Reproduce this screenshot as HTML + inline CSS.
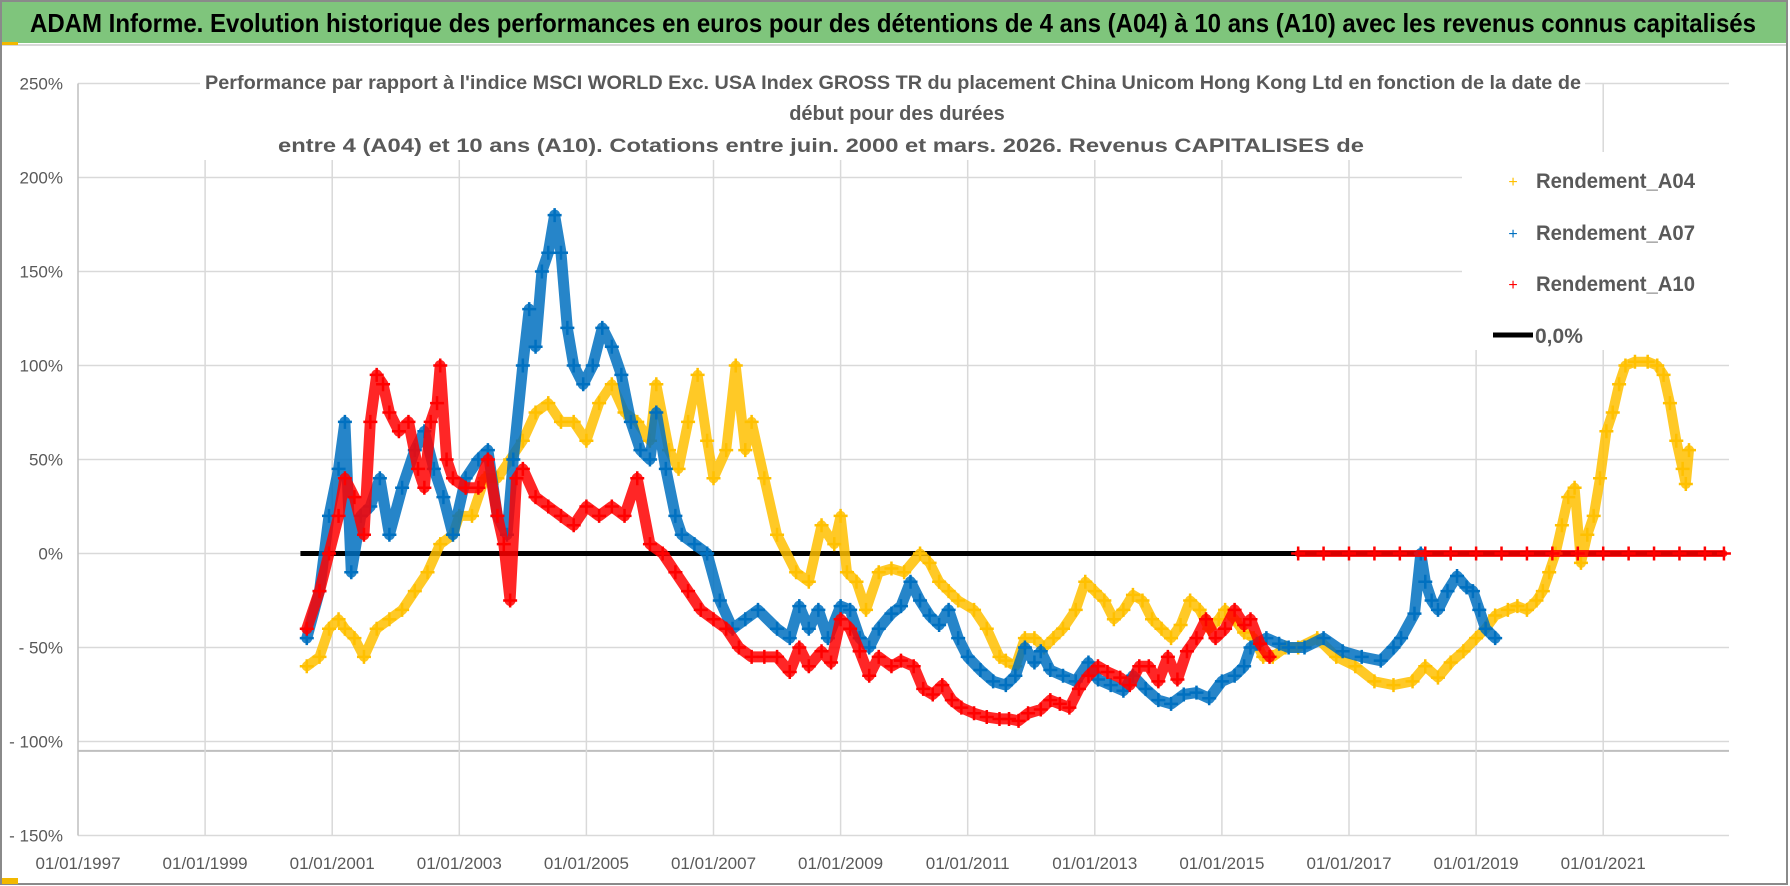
<!DOCTYPE html>
<html><head><meta charset="utf-8"><style>
html,body{margin:0;padding:0;background:#fff;}
svg{display:block;font-family:"Liberation Sans",sans-serif;}
</style></head><body>
<svg id="chart" width="1790" height="886" viewBox="0 0 1790 886">
<rect x="0" y="0" width="1790" height="886" fill="#fff"/>
<rect x="1" y="1" width="1786" height="883" fill="none" stroke="#8a8a8a" stroke-width="2"/>
<rect x="2" y="2" width="1784" height="41" fill="#7fc57c"/>
<line x1="2" y1="45" x2="1786" y2="45" stroke="#d8d8d8" stroke-width="2"/>
<rect x="2" y="42" width="16" height="3" fill="#f2b800"/>
<rect x="2" y="878" width="16" height="6" fill="#f2b800"/>
<text x="30" y="32" font-size="26" font-weight="bold" fill="#000" textLength="1726" lengthAdjust="spacingAndGlyphs">ADAM Informe. Evolution historique des performances en euros pour des détentions de 4 ans (A04) à 10 ans (A10) avec les revenus connus capitalisés</text>
<g id="grid"></g>
<g id="axes"></g>
<g id="series"></g>
<rect x="1462" y="152" width="300" height="198" fill="#fff"/>
<g id="titles">
<rect x="200" y="70" width="1385" height="90" fill="#fff"/>
<text x="205" y="89" font-size="19" font-weight="bold" fill="#595959" textLength="1376" lengthAdjust="spacingAndGlyphs">Performance par rapport à l'indice MSCI WORLD Exc. USA Index GROSS TR  du placement China Unicom Hong Kong Ltd en fonction de la date de</text>
<text x="897" y="120" font-size="20" font-weight="bold" fill="#595959" text-anchor="middle">début pour des durées</text>
<text x="278" y="152" font-size="19" font-weight="bold" fill="#595959" textLength="1086" lengthAdjust="spacingAndGlyphs">entre 4 (A04) et 10 ans (A10). Cotations entre juin. 2000 et mars. 2026. Revenus CAPITALISES de</text>
</g>
<g id="legend">
<g><text x="1513" y="187" font-size="16" fill="#ffc000" text-anchor="middle">+</text><text x="1536" y="188" font-size="21" font-weight="bold" fill="#595959" textLength="159" lengthAdjust="spacingAndGlyphs">Rendement_A04</text></g>
<g><text x="1513" y="239" font-size="16" fill="#0070c0" text-anchor="middle">+</text><text x="1536" y="240" font-size="21" font-weight="bold" fill="#595959" textLength="159" lengthAdjust="spacingAndGlyphs">Rendement_A07</text></g>
<g><text x="1513" y="290" font-size="16" fill="#ff0000" text-anchor="middle">+</text><text x="1536" y="291" font-size="21" font-weight="bold" fill="#595959" textLength="159" lengthAdjust="spacingAndGlyphs">Rendement_A10</text></g>
<g><line x1="1493" y1="335" x2="1533" y2="335" stroke="#000" stroke-width="5"/><text x="1535" y="343" font-size="21" font-weight="bold" fill="#595959">0,0%</text></g>
</g>
</svg>
<script>
const yTicks = [250, 200, 150, 100, 50, 0, -50, -100, -150];
const yTickLabels = ["250%", "200%", "150%", "100%", "50%", "0%", "- 50%", "- 100%", "- 150%"];
const xTicks = [1997, 1999, 2001, 2003, 2005, 2007, 2009, 2011, 2013, 2015, 2017, 2019, 2021];
const xTickLabels = ["01/01/1997","01/01/1999","01/01/2001","01/01/2003","01/01/2005","01/01/2007","01/01/2009","01/01/2011","01/01/2013","01/01/2015","01/01/2017","01/01/2019","01/01/2021"];

const a04Dates = [2000.6,2000.8,2000.95,2001.1,2001.2,2001.35,2001.5,2001.7,2001.9,2002.1,2002.3,2002.5,2002.7,2002.9,2003.0,2003.2,2003.4,2003.6,2003.8,2004.0,2004.2,2004.4,2004.6,2004.8,2005.0,2005.2,2005.4,2005.6,2005.8,2006.0,2006.1,2006.3,2006.45,2006.6,2006.75,2006.9,2007.0,2007.2,2007.35,2007.5,2007.6,2007.8,2008.0,2008.3,2008.5,2008.7,2008.9,2009.0,2009.1,2009.25,2009.4,2009.6,2009.8,2010.0,2010.25,2010.4,2010.55,2010.7,2010.85,2011.1,2011.3,2011.5,2011.6,2011.75,2011.9,2012.05,2012.2,2012.35,2012.5,2012.7,2012.85,2013.0,2013.15,2013.3,2013.45,2013.6,2013.75,2013.9,2014.05,2014.2,2014.35,2014.5,2014.65,2014.8,2014.95,2015.05,2015.2,2015.35,2015.5,2015.65,2015.8,2016.0,2016.2,2016.5,2016.8,2017.1,2017.4,2017.7,2018.0,2018.2,2018.4,2018.6,2018.8,2019.0,2019.15,2019.3,2019.5,2019.65,2019.8,2019.95,2020.05,2020.15,2020.25,2020.35,2020.45,2020.55,2020.65,2020.75,2020.85,2020.95,2021.05,2021.15,2021.25,2021.35,2021.5,2021.7,2021.85,2021.95,2022.05,2022.15,2022.25,2022.3,2022.35];
const a04Values = [-60,-55,-40,-35,-40,-45,-55,-40,-35,-30,-20,-10,5,10,20,20,40,40,50,60,75,80,70,70,60,80,90,75,70,60,90,55,45,70,95,60,40,55,100,55,70,40,10,-10,-15,15,5,20,-10,-15,-30,-10,-8,-10,0,-5,-15,-20,-25,-30,-40,-55,-57,-60,-45,-45,-50,-45,-40,-30,-15,-20,-25,-35,-30,-22,-25,-35,-40,-45,-38,-25,-30,-40,-35,-30,-35,-42,-45,-55,-55,-50,-50,-45,-55,-60,-68,-70,-68,-60,-66,-58,-52,-45,-40,-33,-30,-28,-30,-25,-20,-10,0,15,30,35,-5,10,20,40,65,75,90,100,102,102,100,95,80,60,45,37,55];

const a07Dates = [2000.6,2000.8,2000.95,2001.1,2001.2,2001.3,2001.45,2001.6,2001.75,2001.9,2002.1,2002.3,2002.45,2002.6,2002.75,2002.9,2003.1,2003.3,2003.45,2003.6,2003.75,2003.85,2004.0,2004.1,2004.2,2004.3,2004.4,2004.5,2004.6,2004.7,2004.8,2004.95,2005.1,2005.25,2005.4,2005.55,2005.7,2005.85,2006.0,2006.1,2006.25,2006.4,2006.5,2006.7,2006.9,2007.1,2007.3,2007.5,2007.7,2008.0,2008.2,2008.35,2008.5,2008.65,2008.8,2009.0,2009.15,2009.3,2009.45,2009.6,2009.8,2009.95,2010.1,2010.25,2010.4,2010.55,2010.7,2010.85,2011.0,2011.2,2011.4,2011.6,2011.75,2011.9,2012.05,2012.15,2012.3,2012.5,2012.7,2012.9,2013.05,2013.25,2013.45,2013.6,2013.8,2014.0,2014.2,2014.4,2014.6,2014.8,2015.0,2015.2,2015.35,2015.45,2015.55,2015.7,2015.9,2016.05,2016.3,2016.6,2016.9,2017.2,2017.5,2017.7,2017.82,2018.03,2018.13,2018.2,2018.3,2018.4,2018.55,2018.7,2018.85,2018.95,2019.05,2019.15,2019.3];
const a07Values = [-45,-20,20,45,70,-10,20,25,40,10,35,55,65,45,30,10,40,50,55,20,10,50,100,130,110,150,160,180,160,120,100,90,100,120,110,95,70,55,50,75,45,20,10,5,0,-25,-40,-35,-30,-40,-45,-28,-40,-30,-45,-28,-30,-45,-50,-40,-32,-28,-15,-25,-33,-38,-30,-45,-55,-62,-68,-70,-65,-50,-58,-52,-62,-65,-68,-58,-67,-70,-73,-65,-72,-78,-80,-75,-74,-77,-68,-65,-60,-50,-48,-45,-48,-50,-50,-45,-52,-55,-57,-50,-45,-32,0,-15,-25,-30,-20,-12,-18,-20,-30,-40,-45];

const a10Dates = [2000.6,2000.8,2000.95,2001.1,2001.2,2001.35,2001.5,2001.6,2001.7,2001.8,2001.9,2002.05,2002.2,2002.35,2002.45,2002.55,2002.65,2002.7,2002.8,2002.9,2003.1,2003.3,2003.45,2003.6,2003.7,2003.8,2003.9,2004.0,2004.2,2004.4,2004.6,2004.8,2005.0,2005.2,2005.4,2005.6,2005.8,2006.0,2006.2,2006.4,2006.6,2006.8,2007.0,2007.2,2007.4,2007.6,2007.8,2008.0,2008.2,2008.35,2008.5,2008.7,2008.85,2009.0,2009.15,2009.3,2009.45,2009.6,2009.8,2009.95,2010.15,2010.3,2010.45,2010.6,2010.75,2010.9,2011.1,2011.3,2011.5,2011.65,2011.8,2011.95,2012.15,2012.3,2012.45,2012.6,2012.75,2012.9,2013.05,2013.2,2013.4,2013.55,2013.7,2013.85,2014.0,2014.15,2014.3,2014.45,2014.6,2014.75,2014.9,2015.05,2015.2,2015.35,2015.45,2015.6,2015.75];
const a10Values = [-40,-20,0,20,40,30,10,70,95,90,75,65,70,45,35,70,80,100,50,40,35,35,50,20,5,-25,40,45,30,25,20,15,25,20,25,20,40,5,0,-10,-20,-30,-35,-40,-50,-55,-55,-55,-63,-50,-60,-52,-58,-35,-40,-52,-65,-55,-60,-57,-60,-72,-75,-70,-78,-82,-85,-87,-88,-88,-89,-85,-83,-78,-80,-82,-72,-65,-60,-63,-66,-70,-60,-60,-68,-55,-67,-52,-45,-35,-45,-40,-30,-38,-35,-48,-55];

const a10ZeroDates = [2016.2,2016.6,2017.0,2017.4,2017.8,2018.2,2018.6,2019.0,2019.4,2019.8,2020.2,2020.6,2021.0,2021.4,2021.8,2022.2,2022.6,2022.9];
const a10ZeroValues = [0,0,0,0,0,0,0,0,0,0,0,0,0,0,0,0,0,0];
const zeroDates = [2000.5, 2022.9];
const zeroValues = [0, 0];

const NS = "http://www.w3.org/2000/svg";
const X0 = 78, X1 = 1729;
function xs(yr){ return 78 + (yr - 1997) * 63.55; }
function ys(v){ return 553.5 - v * 1.88; }
function mk(tag, attrs, parent){ const e = document.createElementNS(NS, tag); for (const k in attrs) e.setAttribute(k, attrs[k]); parent.appendChild(e); return e; }

const grid = document.getElementById('grid');
const axes = document.getElementById('axes');
yTicks.forEach((t, i) => {
  const l = mk('line', {x1: X0, x2: X1, y1: ys(t), y2: ys(t), stroke: '#d9d9d9', 'stroke-width': 1.5}, grid);
  
  
  const tx = mk('text', {x: 63, y: ys(t) + 6, 'font-size': 17, fill: '#595959', 'text-anchor': 'end'}, axes);
  tx.textContent = yTickLabels[i];
  
  
});
const sep = mk('line', {x1: X0, x2: X1, y1: ys(-105), y2: ys(-105), stroke: '#bfbfbf', 'stroke-width': 2}, grid);


xTicks.forEach((t, i) => {
  const l = mk('line', {x1: xs(t), x2: xs(t), y1: ys(250), y2: ys(-150), stroke: i === 0 ? '#bfbfbf' : '#d9d9d9', 'stroke-width': 1.5}, grid);
  
  
  const tx = mk('text', {x: xs(t), y: 869, 'font-size': 17, fill: '#595959', 'text-anchor': 'middle'}, axes);
  tx.textContent = xTickLabels[i];
  
  
});

const layer = document.getElementById('series');
function drawSeries(dates, vals, color, name, lineW){
  const g = mk('g', {}, layer);
  
  
  const pts = dates.map((d, i) => xs(d).toFixed(1) + ',' + ys(vals[i]).toFixed(1)).join(' ');
  mk('polyline', {points: pts, fill: 'none', stroke: color, 'stroke-width': lineW, 'stroke-linejoin': 'round', 'stroke-linecap': 'round', opacity: 0.85}, g);
  dates.forEach((d, i) => {
    const x = xs(d), y = ys(vals[i]);
    const p = mk('path', {d: `M${x-7},${y}H${x+7}M${x},${y-7}V${y+7}`, stroke: color, 'stroke-width': 2.5}, g);
    
    
  });
}
const zl = mk('polyline', {points: zeroDates.map((d,i)=>xs(d)+','+ys(zeroValues[i])).join(' '), stroke: '#000', 'stroke-width': 5, fill: 'none'}, layer);


drawSeries(a04Dates, a04Values, '#ffc000', 'series-a04', 10);
drawSeries(a07Dates, a07Values, '#0070c0', 'series-a07', 11);
drawSeries(a10Dates, a10Values, '#ff0000', 'series-a10', 11);
drawSeries(a10ZeroDates, a10ZeroValues, '#ff0000', 'series-a10-zero', 7);
</script>
</body></html>
